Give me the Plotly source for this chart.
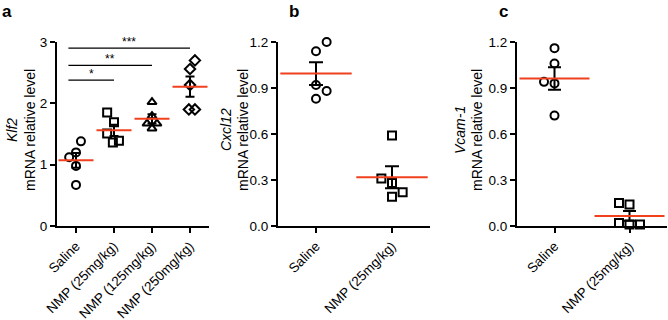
import numpy as np
import plotly.graph_objects as go

# ---------------- data ----------------
cats_a = ["Saline", "NMP (25mg/kg)", "NMP (125mg/kg)", "NMP (250mg/kg)"]
klf2_saline = [1.38, 1.20, 1.12, 0.98, 0.67]
klf2_nmp25 = [1.85, 1.69, 1.51, 1.36, 1.39]
klf2_nmp125 = [2.02, 1.79, 1.67, 1.67, 1.59]
klf2_nmp250 = [2.70, 2.56, 2.30, 1.90, 1.90]

cats_bc = ["Saline", "NMP (25mg/kg)"]
cxcl12_saline = [1.20, 1.14, 0.92, 0.88, 0.83]
cxcl12_nmp25 = [0.59, 0.31, 0.28, 0.22, 0.19]

vcam1_saline = [1.16, 1.06, 0.94, 0.93, 0.72]
vcam1_nmp25 = [0.15, 0.14, 0.02, 0.01, 0.01]

ticks_a = [0, 1, 2, 3]
ticks_bc = [0.0, 0.3, 0.6, 0.9, 1.2]

# significance brackets: (group_from, group_to, height, label)
sig_a = [(0, 3, 2.90, "***"), (0, 2, 2.62, "**"), (0, 1, 2.38, "*")]
sig_b = [(0, 1, 1.245, "***")]
sig_c = [(0, 1, 1.25, "***")]

# horizontal jitter (category units) for the dots
jit_a = [[0.13, 0, -0.18, 0, 0], [-0.18, 0, -0.18, -0.03, 0.13],
         [0, 0, -0.13, 0.13, 0], [0.13, 0, 0, -0.03, 0.13]]
jit_b = [[0.14, 0, 0, 0.14, 0], [0, -0.14, 0, 0.14, 0]]
jit_c = [[0, 0, -0.14, 0, 0], [-0.14, 0, -0.14, 0, 0.14]]

FONT = "Liberation Sans, Arial, sans-serif"
RED = "#F0401E"

W, H = 668, 320


def xp(px):
    return px / W


def yp(py):
    return 1 - py / H


fig = go.Figure()

panels = [
    dict(ax="", groups=[klf2_saline, klf2_nmp25, klf2_nmp125, klf2_nmp250], jit=jit_a,
         symbols=["circle-open", "square-open", "triangle-up-open", "diamond-open"],
         meanw=25, capw=4.5, sig=sig_a, sig_off=0.2),
    dict(ax="2", groups=[cxcl12_saline, cxcl12_nmp25], jit=jit_b,
         symbols=["circle-open", "square-open"], meanw=51, capw=7, sig=sig_b, sig_off=0.03),
    dict(ax="3", groups=[vcam1_saline, vcam1_nmp25], jit=jit_c,
         symbols=["circle-open", "square-open"], meanw=50, capw=6.5, sig=sig_c, sig_off=0.0),
]

for p in panels:
    xa, ya = "x" + p["ax"], "y" + p["ax"]
    for gi, vals in enumerate(p["groups"]):
        v = np.array(vals)
        xs = [gi + j for j in p["jit"][gi]]
        fig.add_trace(go.Scatter(
            x=xs, y=v, mode="markers", xaxis=xa, yaxis=ya, cliponaxis=False,
            marker=dict(symbol=p["symbols"][gi], size=8, color="black",
                        line=dict(width=2, color="black")),
            showlegend=False, hoverinfo="y"))
        mean = v.mean()
        sem = v.std(ddof=1) / np.sqrt(len(v))
        fig.add_trace(go.Scatter(
            x=[gi], y=[mean], mode="markers", xaxis=xa, yaxis=ya, cliponaxis=False,
            marker=dict(symbol="line-ew", size=p["meanw"], color=RED,
                        line=dict(width=2, color=RED)),
            error_y=dict(type="data", array=[sem], visible=True, color="black",
                         thickness=2, width=p["capw"]),
            showlegend=False, hoverinfo="y"))
    for (g0, g1, h, lab) in p["sig"]:
        fig.add_trace(go.Scatter(
            x=[g0 - p["sig_off"], g1], y=[h, h], mode="lines", xaxis=xa, yaxis=ya,
            cliponaxis=False, line=dict(color="black", width=1.2),
            showlegend=False, hoverinfo="skip"))
        fig.add_annotation(x=(g0 - p["sig_off"] + g1) / 2, y=h, xref=xa, yref=ya,
                           text=lab, showarrow=False, xanchor="center",
                           yanchor="bottom", yshift=-3,
                           font=dict(size=12, color="black", family=FONT))

axis_common = dict(showline=True, linewidth=2, linecolor="black", showgrid=False,
                   zeroline=False, ticks="outside", ticklen=5, tickwidth=2,
                   tickcolor="black", automargin=False,
                   tickfont=dict(size=13.5, color="black", family=FONT))

ydom = [yp(226), yp(42)]

fig.update_layout(
    width=W, height=H, margin=dict(l=0, r=0, t=0, b=0, pad=0),
    plot_bgcolor="white", paper_bgcolor="white",
    font=dict(family=FONT, color="black"),
    xaxis=dict(domain=[xp(57), xp(209)], range=[-0.5, 3.5], tickvals=list(range(4)),
               ticktext=cats_a, tickangle=-45, anchor="y", **axis_common),
    yaxis=dict(domain=ydom, range=[0, 3], tickvals=ticks_a, anchor="x", **axis_common),
    xaxis2=dict(domain=[xp(278), xp(430)], range=[-0.5, 1.5], tickvals=[0, 1],
                ticktext=cats_bc, tickangle=-45, anchor="y2", **axis_common),
    yaxis2=dict(domain=ydom, range=[0, 1.2], tickvals=ticks_bc, tickformat=".1f",
                anchor="x2", **axis_common),
    xaxis3=dict(domain=[xp(517), xp(667)], range=[-0.5, 1.5], tickvals=[0, 1],
                ticktext=cats_bc, tickangle=-45, anchor="y3", **axis_common),
    yaxis3=dict(domain=ydom, range=[0, 1.2], tickvals=ticks_bc, tickformat=".1f",
                anchor="x3", **axis_common),
)

# y-axis titles (two lines, gene italic) and panel letters
ytitles = [("Klf2", 12, 30), ("Cxcl12", 226, 243), ("Vcam-1", 460, 477)]
for gene, x1, x2 in ytitles:
    fig.add_annotation(x=xp(x1), y=yp(130), xref="paper", yref="paper",
                       xanchor="center", yanchor="middle",
                       text="<i>" + gene + "</i>", textangle=-90, showarrow=False,
                       font=dict(size=14, color="black", family=FONT))
    fig.add_annotation(x=xp(x2), y=yp(130), xref="paper", yref="paper",
                       xanchor="center", yanchor="middle",
                       text="mRNA relative level", textangle=-90, showarrow=False,
                       font=dict(size=14, color="black", family=FONT))

for lab, px in [("a", 7), ("b", 294), ("c", 504)]:
    fig.add_annotation(x=xp(px), y=yp(12), xref="paper", yref="paper",
                       xanchor="center", yanchor="middle",
                       text="<b>" + lab + "</b>",
                       showarrow=False, font=dict(size=17, color="black", family=FONT))

# the page body gets a default 8px margin; remove it so the figure fills the window
fig.write_html("out.html", config={"displayModeBar": False},
               post_script="document.body.style.margin='0';"
                           "document.body.style.overflow='hidden';")
